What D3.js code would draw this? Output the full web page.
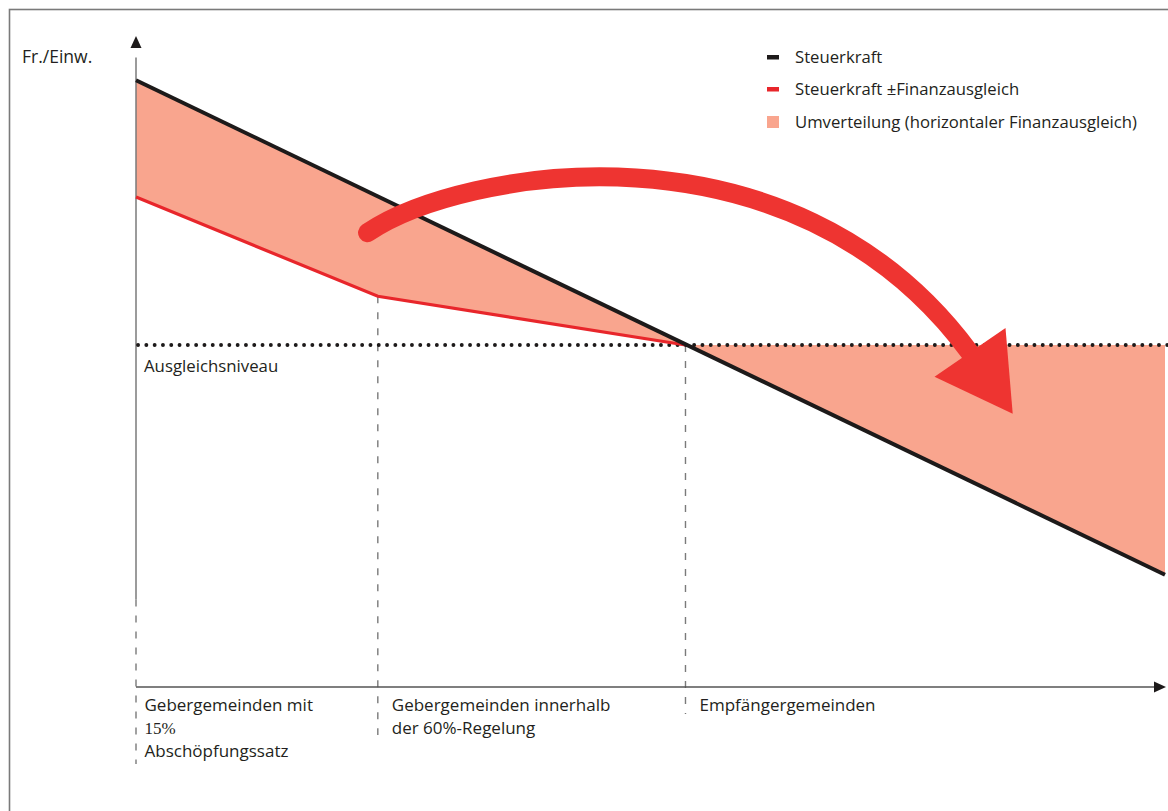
<!DOCTYPE html>
<html>
<head>
<meta charset="utf-8">
<script src="https://cdn.jsdelivr.net/npm/d3@7"></script>
<style>
  body { margin: 0; background: #fff; }
  svg { display: block; }
  text { font-family: "Open Sans", "Noto Sans", sans-serif; fill: #231f20; }
</style>
</head>
<body>
<svg id="chart" width="1168" height="811"></svg>
<script>
// schematic values (arbitrary units: x = Gemeinden sorted by Steuerkraft, y = Fr./Einw.)
var steuerkraft = [{x: 0, y: 93.5}, {x: 100, y: 17.3}];
var mitAusgleich = [{x: 0, y: 75.5}, {x: 23.5, y: 60.2}, {x: 53.4, y: 52.7}, {x: 100, y: 52.7}];
var ausgleichsniveau = 52.7;
var grenzen = [0, 23.5, 53.4];
var gruppenLabels = [
    ["Gebergemeinden mit", "15%", "Abschöpfungssatz"],
    ["Gebergemeinden innerhalb", "der 60%-Regelung"],
    ["Empfängergemeinden"]
];
var legendLabels = ["Steuerkraft", "Steuerkraft \u00b1Finanzausgleich", "Umverteilung (horizontaler Finanzausgleich)"];
// umverteilungs-pfeil (start, kontrollpunkte, ende) und pfeilspitze
var pfeil = [{x: 22.5, y: 70.0}, {x: 31.5, y: 79.7}, {x: 63.6, y: 88.9}, {x: 81.0, y: 51.6}];
var pfeilSpitze = [{x: 84.5, y: 55.3}, {x: 77.6, y: 47.8}, {x: 85.2, y: 42.1}];

var schwarz = "#1d1a1a"
  , rot = "#e8262b"
  , pfeilRot = "#ee3431"
  , lachs = "#f9a58e"
  , grau = "#7a7a7a"
;

var svg = d3.select("#chart");

var x = d3.scaleLinear().domain([0, 100]).range([136, 1165]);
var y = d3.scaleLinear().domain([0, 100]).range([687, 38]);

function sk(v) { // steuerkraft linear
    var a = steuerkraft[0], b = steuerkraft[1];
    return a.y + (b.y - a.y) * (v - a.x) / (b.x - a.x);
}

// frame
svg.append("rect")
    .attr("x", 9.5).attr("y", 9.5)
    .attr("width", 1200).attr("height", 900)
    .attr("fill", "none").attr("stroke", grau).attr("stroke-width", 1.6);

// umverteilung area
var area = d3.area()
    .x(function(d) { return x(d.x); })
    .y0(function(d) { return y(d.y); })
    .y1(function(d) { return y(sk(d.x)); });
svg.append("path")
    .datum(mitAusgleich)
    .attr("d", area)
    .attr("fill", lachs);

// y axis
svg.append("line")
    .attr("x1", x(0)).attr("x2", x(0))
    .attr("y1", y(97)).attr("y2", y(13.5))
    .attr("stroke", grau).attr("stroke-width", 1.5);
svg.append("path")
    .attr("d", "M" + x(0) + "," + (y(100) - 2) + "l-5.5,12h11z")
    .attr("fill", schwarz);
svg.append("text")
    .attr("x", 22).attr("y", 63)
    .style("font-size", "17.5px")
    .text("Fr./Einw.");

// dashed group boundaries
var dashTop = [13.5, 60.2, 52.7];
var dashBottom = [764, 735, 714];
svg.selectAll("line.grenze")
    .data(grenzen)
    .enter().append("line")
    .attr("class", "grenze")
    .attr("x1", function(d) { return x(d); })
    .attr("x2", function(d) { return x(d); })
    .attr("y1", function(d, i) { return y(dashTop[i]); })
    .attr("y2", function(d, i) { return dashBottom[i]; })
    .attr("stroke", grau).attr("stroke-width", 1.4)
    .attr("stroke-dasharray", "7,9");

// x axis
svg.append("line")
    .attr("x1", x(0)).attr("x2", x(99))
    .attr("y1", y(0)).attr("y2", y(0))
    .attr("stroke", "#555").attr("stroke-width", 1.4);
svg.append("path")
    .attr("d", "M" + (x(100) + 1) + "," + y(0) + "l-12,-5.5v11z")
    .attr("fill", schwarz);

// ausgleichsniveau dotted
svg.append("line")
    .attr("x1", x(0) + 2).attr("x2", 1168)
    .attr("y1", y(ausgleichsniveau)).attr("y2", y(ausgleichsniveau))
    .attr("stroke", schwarz).attr("stroke-width", 3.8)
    .attr("stroke-linecap", "round")
    .attr("stroke-dasharray", "0.1,8.2");
svg.append("text")
    .attr("x", 144).attr("y", y(ausgleichsniveau) + 27)
    .style("font-size", "16.8px")
    .text("Ausgleichsniveau");

var line = d3.line()
    .x(function(d) { return x(d.x); })
    .y(function(d) { return y(d.y); });

// steuerkraft ± finanzausgleich
svg.append("path")
    .datum(mitAusgleich.slice(0, 3))
    .attr("d", line)
    .attr("fill", "none").attr("stroke", rot).attr("stroke-width", 3.2);

// steuerkraft
svg.append("path")
    .datum(steuerkraft)
    .attr("d", line)
    .attr("fill", "none").attr("stroke", schwarz).attr("stroke-width", 4);

// big arrow
var p = d3.path();
p.moveTo(x(pfeil[0].x), y(pfeil[0].y));
p.bezierCurveTo(x(pfeil[1].x), y(pfeil[1].y), x(pfeil[2].x), y(pfeil[2].y), x(pfeil[3].x), y(pfeil[3].y));
svg.append("path")
    .attr("d", p.toString())
    .attr("fill", "none").attr("stroke", pfeilRot)
    .attr("stroke-width", 19).attr("stroke-linecap", "round");
svg.append("path")
    .datum(pfeilSpitze)
    .attr("d", function(d) { return line(d) + "Z"; })
    .attr("fill", pfeilRot);

// group labels
var lineH = [0, 23, 46];
var labelDx = [8.5, 14, 14];
grenzen.forEach(function(g, i) {
    var t = svg.append("text")
        .attr("x", x(g) + labelDx[i])
        .attr("y", 711)
        .style("font-size", "17px");
    gruppenLabels[i].forEach(function(s, j) {
        t.append("tspan")
            .attr("x", x(g) + labelDx[i])
            .attr("y", 711 + lineH[j])
            .style("font-family", s === "15%" ? "'Liberation Serif', serif" : null)
            .style("font-size", s === "15%" ? "17px" : null)
            .text(s);
    });
});

// legend
var legend = svg.append("g").attr("transform", "translate(767,0)");
var legendY = [57, 89, 122];
legendLabels.forEach(function(s, i) {
    if (i < 2) {
        legend.append("rect")
            .attr("x", 0).attr("y", legendY[i] - 2)
            .attr("width", 12).attr("height", 4.5)
            .attr("fill", i === 0 ? schwarz : rot);
    } else {
        legend.append("rect")
            .attr("x", 0).attr("y", legendY[i] - 6)
            .attr("width", 12).attr("height", 12)
            .attr("fill", lachs);
    }
    legend.append("text")
        .attr("x", 28).attr("y", legendY[i] + 6)
        .style("font-size", "16.7px")
        .text(s);
});
</script>
</body>
</html>
